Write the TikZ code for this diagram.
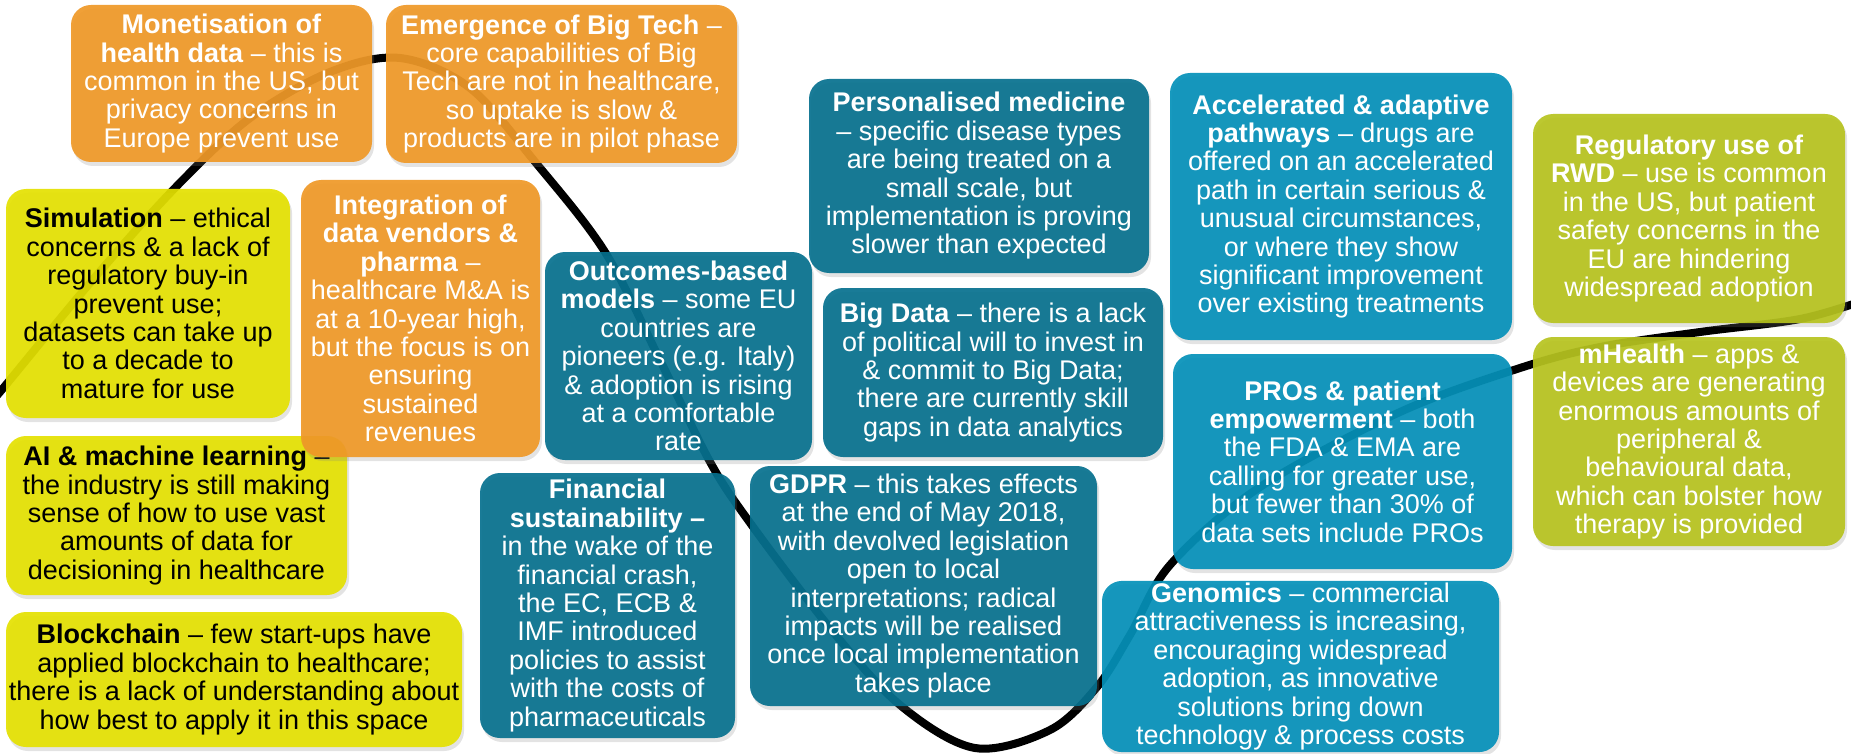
\documentclass[tikz,border=0pt]{standalone}
\usepackage{fontspec}
\setmainfont{Liberation Sans}
\usetikzlibrary{shadows}
\definecolor{orangebox}{RGB}{239,152,38}
\definecolor{yellowbox}{RGB}{228,225,0}
\definecolor{darkteal}{RGB}{5,112,142}
\definecolor{lightteal}{RGB}{3,144,184}
\definecolor{olivebox}{RGB}{182,195,30}
\begin{document}
\begin{tikzpicture}[x=1pt, y=-1pt]
\tikzstyle{card}=[rounded corners=20pt, align=center, inner sep=2pt, fill opacity=0.92, text opacity=1, font=\fontsize{27}{28.4}\selectfont, drop shadow={shadow xshift=2pt, shadow yshift=-4pt, opacity=0.22}]
\tikzstyle{orange card}=[card, fill=orangebox, text=white]
\tikzstyle{yellow card}=[card, fill=yellowbox, text=black]
\tikzstyle{dark card}=[card, fill=darkteal, text=white]
\tikzstyle{light card}=[card, fill=lightteal, text=white]
\tikzstyle{olive card}=[card, fill=olivebox, text=white]
\useasboundingbox (0,0) rectangle (1851,754);
% the wave behind the cards
\draw [line width=8pt] plot [smooth, tension=0.55] coordinates {(-20,415) (0,392) (90,283) (173,190) (250,118) (330,72) (400,58) (470,88) (536,163) (605,252) (660,360) (709,460) (748,520) (830,628) (900,705) (975,748) (1050,730) (1097,687) (1130,635) (1170,565) (1260,487) (1400,412) (1520,368) (1600,347) (1700,332) (1800,319) (1865,300)};
% left group
\node [orange card, minimum width=301pt, minimum height=157pt] (monetisation) at (221.5,83.5) {\textbf{Monetisation of}\\\textbf{health data} – this is\\common in the US, but\\privacy concerns in\\Europe prevent use};
\node [orange card, minimum width=351pt, minimum height=158pt] (bigtech) at (561.5,84) {\textbf{Emergence of Big Tech} –\\core capabilities of Big\\Tech are not in healthcare,\\so uptake is slow \&\\products are in pilot phase};
\node [yellow card, minimum width=284pt, minimum height=229pt] (simulation) at (148,303.5) {\textbf{Simulation} – ethical\\concerns \& a lack of\\regulatory buy-in\\prevent use;\\datasets can take up\\to a decade to\\mature for use};
\node [yellow card, minimum width=341pt, minimum height=159pt] (ai) at (176.5,515.5) {\textbf{AI \& machine learning} –\\the industry is still making\\sense of how to use vast\\amounts of data for\\decisioning in healthcare};
\node [orange card, minimum width=239pt, minimum height=277pt] (integration) at (420.5,318.5) {\textbf{Integration of}\\\textbf{data vendors \&}\\\textbf{pharma} –\\healthcare M\&A is\\at a 10-year high,\\but the focus is on\\ensuring\\sustained\\revenues};
\node [yellow card, minimum width=456pt, minimum height=135pt] (blockchain) at (234,679.5) {\textbf{Blockchain} – few start-ups have\\applied blockchain to healthcare;\\there is a lack of understanding about\\how best to apply it in this space};
% middle group
\node [dark card, minimum width=267pt, minimum height=208pt] (outcomes) at (678.5,356) {\textbf{Outcomes-based}\\\textbf{models} – some EU\\countries are\\pioneers (e.g. Italy)\\\& adoption is rising\\at a comfortable\\rate};
\node [dark card, minimum width=340pt, minimum height=194pt] (personalised) at (979,176) {\textbf{Personalised medicine}\\– specific disease types\\are being treated on a\\small scale, but\\implementation is proving\\slower than expected};
\node [dark card, minimum width=340pt, minimum height=169pt] (bigdata) at (993,372.5) {\textbf{Big Data} – there is a lack\\of political will to invest in\\\& commit to Big Data;\\there are currently skill\\gaps in data analytics};
\node [dark card, minimum width=255pt, minimum height=265pt] (financial) at (607.5,605.5) {\textbf{Financial}\\\textbf{sustainability –}\\in the wake of the\\financial crash,\\the EC, ECB \&\\IMF introduced\\policies to assist\\with the costs of\\pharmaceuticals};
\node [dark card, minimum width=347pt, minimum height=240pt] (gdpr) at (923.5,586) {\textbf{GDPR} – this takes effects\\at the end of May 2018,\\with devolved legislation\\open to local\\interpretations; radical\\impacts will be realised\\once local implementation\\takes place};
% right group
\node [light card, minimum width=342pt, minimum height=267pt] (accelerated) at (1341,206.5) {\textbf{Accelerated \& adaptive}\\\textbf{pathways} – drugs are\\offered on an accelerated\\path in certain serious \&\\unusual circumstances,\\or where they show\\significant improvement\\over existing treatments};
\node [light card, minimum width=339pt, minimum height=215pt] (pros) at (1342.5,461.5) {\textbf{PROs \& patient}\\\textbf{empowerment} – both\\the FDA \& EMA are\\calling for greater use,\\but fewer than 30\% of\\data sets include PROs};
\node [light card, minimum width=397pt, minimum height=171pt] (genomics) at (1300.5,666.5) {\textbf{Genomics} – commercial\\attractiveness is increasing,\\encouraging widespread\\adoption, as innovative\\solutions bring down\\technology \& process costs};
\node [olive card, minimum width=312pt, minimum height=209pt] (rwd) at (1689,218.5) {\textbf{Regulatory use of}\\\textbf{RWD} – use is common\\in the US, but patient\\safety concerns in the\\EU are hindering\\widespread adoption};
\node [olive card, minimum width=312pt, minimum height=209pt] (mhealth) at (1689,441.5) {\textbf{mHealth} – apps \&\\devices are generating\\enormous amounts of\\peripheral \&\\behavioural data,\\which can bolster how\\therapy is provided};
\end{tikzpicture}
\end{document}
